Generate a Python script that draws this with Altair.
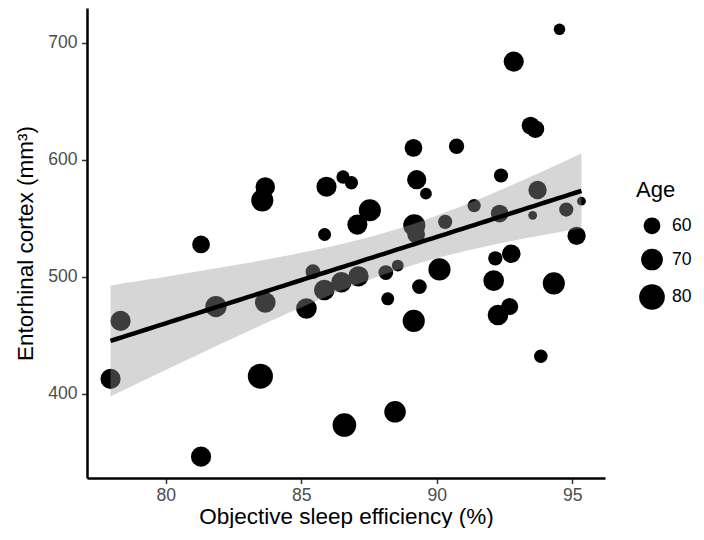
import altair as alt
import numpy as np
import pandas as pd

# Objective sleep efficiency (%)
sleep_eff = [94.53, 92.84, 93.46, 93.64, 89.14, 90.73, 92.37, 89.26, 89.60, 83.67,
             83.56, 85.93, 86.54, 86.85, 87.53, 87.07, 85.86, 81.30, 89.17, 89.24,
             90.31, 91.38, 92.32, 93.54, 93.72, 94.78, 95.34, 95.16, 92.16, 92.75,
             92.10, 94.32, 92.69, 92.26, 93.84, 90.10, 89.36, 88.19, 89.15, 88.46,
             86.59, 88.12, 88.56, 85.85, 86.48, 87.11, 85.43, 85.19, 78.33, 77.96,
             81.85, 83.67, 83.49, 81.30]
# Entorhinal cortex volume (mm3)
ec_vol = [711.3, 683.8, 629.1, 626.2, 610.1, 611.5, 586.5, 582.9, 571.0, 576.7,
          565.3, 576.9, 585.2, 580.3, 556.8, 544.6, 536.1, 527.6, 544.0, 536.1,
          546.9, 560.8, 554.0, 552.5, 574.1, 557.4, 564.6, 535.0, 515.7, 519.7,
          496.7, 494.4, 474.6, 467.4, 432.1, 506.3, 491.6, 481.2, 462.3, 384.7,
          373.4, 503.6, 509.6, 488.7, 495.3, 500.4, 504.4, 472.9, 462.3, 412.8,
          474.6, 478.0, 415.1, 346.4]
# Age (years)
age = [52.0, 66.5, 61.7, 61.7, 61.7, 57.5, 55.7, 64.6, 52.4, 65.2,
       71.0, 66.5, 54.4, 54.4, 71.0, 66.5, 54.0, 61.7, 71.0, 61.7,
       55.7, 54.4, 61.7, 49.1, 62.8, 55.7, 49.1, 62.8, 55.7, 63.4,
       67.6, 71.0, 60.5, 67.6, 54.7, 71.0, 56.6, 54.0, 71.0, 69.6,
       74.7, 56.6, 52.4, 67.6, 67.0, 67.0, 56.6, 67.6, 66.5, 66.5,
       69.0, 67.6, 78.4, 66.5]

x_ticks = [80, 85, 90, 95]
y_ticks = [400, 500, 600, 700]
age_breaks = [60, 70, 80]

df = pd.DataFrame({"sleep": sleep_eff, "ec": ec_vol, "age": age})

# linear fit with 95% confidence band (as geom_smooth(method = "lm"))
x = np.array(sleep_eff)
y = np.array(ec_vol)
n = len(x)
b, a = np.polyfit(x, y, 1)
resid = y - (a + b * x)
s = np.sqrt((resid ** 2).sum() / (n - 2))
xbar = x.mean()
sxx = ((x - xbar) ** 2).sum()
dof = n - 2
z = 1.959963985
t = z + (z ** 3 + z) / (4 * dof) + (5 * z ** 5 + 16 * z ** 3 + 3 * z) / (96 * dof ** 2)
xs = np.linspace(x.min(), x.max(), 80)
fit = a + b * xs
se = s * np.sqrt(1.0 / n + (xs - xbar) ** 2 / sxx)
fitdf = pd.DataFrame({"sleep": xs, "ec": fit, "lo": fit - t * se, "hi": fit + t * se})

xr = x.max() - x.min()
yr = y.max() - y.min()
xscale = alt.Scale(domain=[x.min() - 0.05 * xr, x.max() + 0.05 * xr], nice=False, zero=False)
yscale = alt.Scale(domain=[y.min() - 0.05 * yr, y.max() + 0.05 * yr], nice=False, zero=False)

xaxis = alt.Axis(values=x_ticks, title="Objective sleep efficiency (%)", titlePadding=1, labelPadding=3)
yaxis = alt.Axis(values=y_ticks, title="Entorhinal cortex (mm³)", titlePadding=10)

X = alt.X("sleep:Q", scale=xscale, axis=xaxis)

points = alt.Chart(df).mark_circle(color="black", opacity=1, strokeWidth=0).encode(
    x=X,
    y=alt.Y("ec:Q", scale=yscale, axis=yaxis),
    size=alt.Size(
        "age:Q",
        scale=alt.Scale(domain=[60, 80], range=[283, 660], zero=False),
        legend=alt.Legend(
            title="Age",
            values=age_breaks,
            orient="none",
            legendX=549,
            legendY=172,
            titleFontSize=22,
            titleFont="Liberation Sans",
            titleFontWeight="normal",
            titleColor="black",
            titlePadding=15,
            labelFontSize=17.6,
            labelFont="Liberation Sans",
            labelColor="black",
            labelOffset=7,
            symbolOffset=3,
            rowPadding=13.5,
            symbolFillColor="black",
            symbolStrokeWidth=0,
            symbolOpacity=1,
            padding=0,
        ),
    ),
)

band = alt.Chart(fitdf).mark_area(color="#999999", opacity=0.4).encode(
    x=X,
    y=alt.Y("lo:Q", scale=yscale, axis=yaxis),
    y2="hi:Q",
)

line = alt.Chart(fitdf).mark_line(color="black", strokeWidth=4.5).encode(
    x=X,
    y=alt.Y("ec:Q", scale=yscale, axis=yaxis),
)

chart = alt.layer(points, band, line).properties(
    width=518,
    height=470,
    autosize=alt.AutoSizeParams(type="none"),
    padding={"left": 79, "top": 0, "right": 91, "bottom": 50},
).configure_view(stroke=None).configure_axis(
    grid=False,
    domainColor="black",
    domainWidth=2.5,
    tickColor="#333333",
    tickWidth=1.5,
    tickSize=5.5,
    labelColor="#4d4d4d",
    labelFontSize=17.6,
    labelFont="Liberation Sans",
    labelPadding=4.5,
    titleFont="Liberation Sans",
    titleFontSize=22.5,
    titleFontWeight="normal",
    titleColor="black",
)

chart.save("out.html", embed_options={"renderer": "svg", "actions": False})
